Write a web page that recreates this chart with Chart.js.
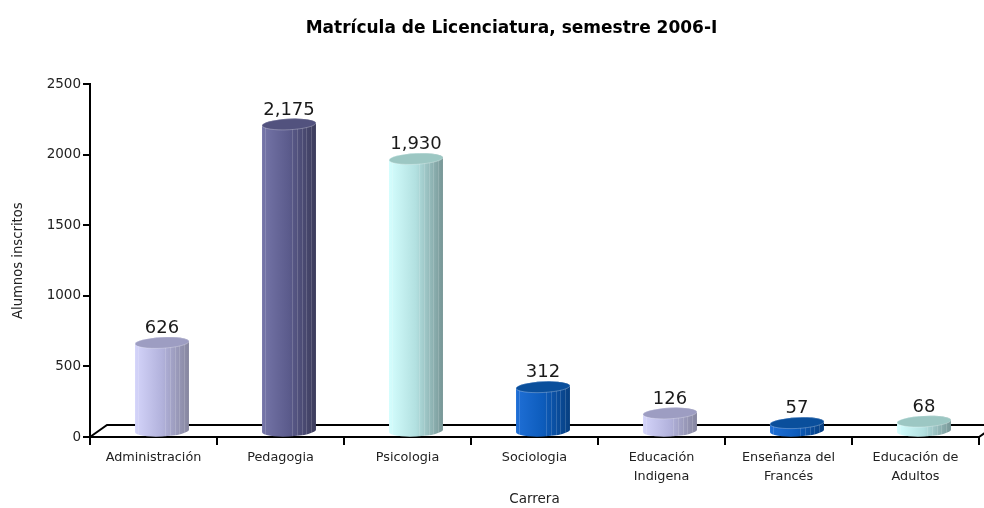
<!DOCTYPE html>
<html>
<head>
<meta charset="utf-8">
<script src="https://cdn.jsdelivr.net/npm/chart.js@4.4.0/dist/chart.umd.min.js"></script>
<style>
html,body{margin:0;padding:0;background:#ffffff;}
#wrap{width:984px;height:508px;position:relative;}
</style>
</head>
<body>
<div id="wrap"><canvas id="c" width="984" height="508"></canvas></div>
<script>
// ---- data ----
const chartTitle = "Matrícula de Licenciatura, semestre 2006-I";
const yAxisTitle = "Alumnos inscritos";
const xAxisTitle = "Carrera";
const categories = [
  "Administración",
  "Pedagogia",
  "Psicologia",
  "Sociologia",
  ["Educación", "Indigena"],
  ["Enseñanza del", "Francés"],
  ["Educación de", "Adultos"]
];
const alumnos = [626, 2175, 1930, 312, 126, 57, 68];
const yTicks = [0, 500, 1000, 1500, 2000, 2500];

// ---- styles ----
const palettes = {
  lavender: { left: "#d4d4fa", mid: "#b2b2dc", right: "#86869f", top: "#9d9dc2" },
  slate:    { left: "#7575a8", mid: "#5b5b8c", right: "#3c3c5c", top: "#52527e" },
  cyan:     { left: "#d4fefe", mid: "#b2e0e0", right: "#779696", top: "#9cc7c3" },
  blue:     { left: "#1f6fd6", mid: "#0d5cbc", right: "#073f80", top: "#0a4f9c" }
};
const barPalette = ["lavender", "slate", "cyan", "blue", "lavender", "blue", "cyan"];
const FONT = "'DejaVu Sans', 'Liberation Sans', sans-serif";
const DX = 17, DY = 12;

function ellipsePath(ctx, cx, cy, rx, ry, rot) {
  ctx.beginPath();
  ctx.ellipse(cx, cy, rx, ry, rot, 0, Math.PI * 2);
  ctx.closePath();
}

const floorPlugin = {
  id: "floor3d",
  beforeDatasetsDraw(chart) {
    const { ctx, chartArea: a } = chart;
    ctx.save();
    ctx.strokeStyle = "#000";
    ctx.lineWidth = 2;
    ctx.beginPath();
    ctx.moveTo(a.left, a.bottom);
    ctx.lineTo(a.left + DX, a.bottom - DY);
    ctx.lineTo(a.right + DX, a.bottom - DY);
    ctx.moveTo(a.right, a.bottom);
    ctx.lineTo(a.right + DX, a.bottom - DY);
    ctx.stroke();
    ctx.restore();
  }
};

const cylinderPlugin = {
  id: "cylinders",
  afterDatasetsDraw(chart) {
    const { ctx } = chart;
    const meta = chart.getDatasetMeta(0);
    const base = chart.scales.y.getPixelForValue(0);
    const rot = -0.05;
    meta.data.forEach((el, i) => {
      const p = palettes[barPalette[i]];
      const cx = el.x + DX / 2;
      const rx = el.width / 2;
      const ry = 5.5;
      const yb = base - DY / 2;
      const yt = el.y - DY / 2;
      ctx.save();
      // body
      const g = ctx.createLinearGradient(cx - rx, 0, cx + rx, 0);
      g.addColorStop(0, p.left);
      g.addColorStop(0.5, p.mid);
      g.addColorStop(1, p.right);
      ctx.beginPath();
      ctx.ellipse(cx, yt, rx, ry, rot, Math.PI, 0, false);
      ctx.ellipse(cx, yb, rx, ry, rot, 0, Math.PI, false);
      ctx.closePath();
      ctx.fillStyle = g;
      ctx.fill();
      // subtle vertical stripes
      ctx.save();
      ctx.clip();
      ctx.strokeStyle = "rgba(255,255,255,0.16)";
      ctx.lineWidth = 1;
      [0.06, 0.55, 0.64, 0.74, 0.82, 0.9].forEach(f => {
        const x = Math.round(cx - rx + f * 2 * rx) + 0.5;
        ctx.beginPath();
        ctx.moveTo(x, yt - ry - 2);
        ctx.lineTo(x, yb + ry + 2);
        ctx.stroke();
      });
      ctx.restore();
      // top
      ellipsePath(ctx, cx, yt, rx, ry, rot);
      ctx.fillStyle = p.top;
      ctx.fill();
      ctx.lineWidth = 0.8;
      ctx.strokeStyle = "rgba(255,255,255,0.35)";
      ctx.stroke();
      // label
      ctx.fillStyle = "#1a1a1a";
      ctx.font = "18px " + FONT;
      ctx.textAlign = "center";
      ctx.textBaseline = "alphabetic";
      ctx.fillText(alumnos[i].toLocaleString("en-US"), cx, yt - ry - 4);
      ctx.restore();
    });
  }
};

const titleShiftPlugin = {
  id: "titleShift",
  afterLayout(chart) {
    if (chart.titleBlock) {
      chart.titleBlock.left = 44;
    }
  }
};

Chart.defaults.font.family = FONT;
Chart.defaults.color = "#111";

new Chart(document.getElementById("c"), {
  type: "bar",
  data: {
    labels: categories,
    datasets: [{
      label: yAxisTitle,
      data: alumnos,
      backgroundColor: "rgba(0,0,0,0)",
      borderWidth: 0,
      barPercentage: 0.425,
      categoryPercentage: 1.0
    }]
  },
  options: {
    responsive: false,
    animation: false,
    devicePixelRatio: 1,
    layout: { padding: { left: 0, right: 5, top: 0, bottom: 0 } },
    plugins: {
      legend: { display: false },
      tooltip: { enabled: false },
      title: {
        display: true,
        text: chartTitle,
        color: "#000",
        font: { size: 17, weight: "bold", family: FONT },
        padding: { top: 18, bottom: 46 }
      }
    },
    scales: {
      x: {
        offset: true,
        grid: {
          offset: true,
          drawOnChartArea: false,
          drawTicks: true,
          tickLength: 8,
          color: "#000",
          lineWidth: 2
        },
        border: { display: true, color: "#000", width: 2 },
        ticks: {
          color: "#222",
          font: { size: 12.8, family: FONT, lineHeight: 1.48 },
          padding: 3,
          maxRotation: 0,
          autoSkip: false
        },
        title: {
          display: true,
          text: xAxisTitle,
          color: "#222",
          font: { size: 13.5, family: FONT },
          padding: { top: 0, bottom: 0 }
        },
        afterFit(scale) { scale.height = 71; }
      },
      y: {
        min: 0,
        max: 2500,
        afterBuildTicks(scale) { scale.ticks = yTicks.map(v => ({ value: v })); },
        grid: {
          drawOnChartArea: false,
          drawTicks: true,
          tickLength: 7,
          color: "#000",
          lineWidth: 2
        },
        border: { display: true, color: "#000", width: 2 },
        ticks: {
          color: "#222",
          font: { size: 13.5, family: FONT },
          padding: 2,
          callback: v => String(v)
        },
        title: {
          display: true,
          text: yAxisTitle,
          color: "#222",
          font: { size: 13.2, family: FONT },
          padding: { top: 11, bottom: 0 }
        },
        afterFit(scale) { scale.width = 90; }
      }
    }
  },
  plugins: [floorPlugin, cylinderPlugin, titleShiftPlugin]
});
</script>
</body>
</html>
